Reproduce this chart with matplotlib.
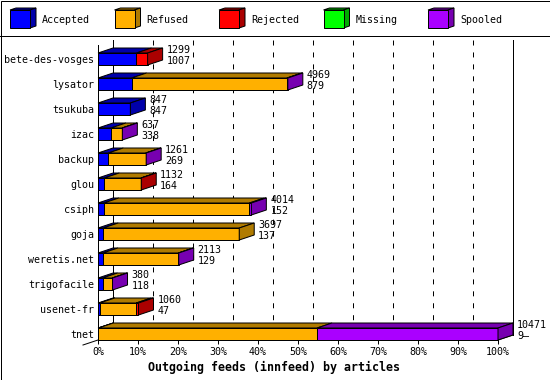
"""
innfeed outgoing feeds, 3d bar chart (innreport style)
"""
# %% importing modules
import matplotlib
matplotlib.use('Agg')
import matplotlib.pyplot as plt
from matplotlib.patches import Polygon, Rectangle

plt.rcParams['font.family'] = 'DejaVu Sans Mono'
plt.rcParams['lines.scale_dashes'] = False

# %% data (articles per feed)
feeds = ['bete-des-vosges', 'lysator', 'tsukuba', 'izac', 'backup', 'glou',
         'csiph', 'goja', 'weretis.net', 'trigofacile', 'usenet-fr', 'tnet']
offered = [1299, 4969, 847, 637, 1261, 1132, 4014, 3697, 2113, 380, 1060, 10471]
accepted = [1007, 879, 847, 338, 269, 164, 152, 137, 129, 118, 47, 9]
refused = [0, 4065, 0, 294, 980, 960, 3812, 3560, 1974, 255, 953, 5725]
rejected = [292, 0, 0, 0, 0, 8, 0, 0, 0, 0, 60, 0]
missing = [0, 0, 0, 0, 0, 0, 0, 0, 0, 0, 0, 0]
spooled = [0, 25, 0, 5, 12, 0, 50, 0, 10, 7, 0, 4737]
sub_labels = ['1007', '879', '847', '338', '269', '164', '152', '137',
              '129', '118', '47', '9\u2014']

xticks = list(range(0, 101, 10))
series_names = ['Accepted', 'Refused', 'Rejected', 'Missing', 'Spooled']
front_cols = ['#0000ff', '#ffb000', '#ff0000', '#00ff00', '#aa00ff']
dark_cols = ['#0000aa', '#b07b00', '#aa0000', '#00aa00', '#7700b0']

# %% geometry (percent on x, row index on y)
W, H = 550, 380
LW = 0.72
DX = 3.75   # 15 px of depth
DY = 0.2    # 5 px of depth
HH = 0.24   # half height of the bar front
YTOP, YBOT = -0.76, 11.24

fig = plt.figure(figsize=(W / 100, H / 100), dpi=100)

# frame + legend in pixel coords
lg = fig.add_axes([0, 0, 1, 1])
lg.set_xlim(0, W)
lg.set_ylim(H, 0)
lg.axis('off')
lg.add_patch(Rectangle((0.5, 0.5), W - 1, H - 1, fill=False, ec='k', lw=LW))
lg.plot([0, W], [35.5, 35.5], color='k', lw=LW)
for i, name in enumerate(series_names):
    x0 = 10 + 104.5 * i
    lg.add_patch(Polygon([(x0, 10), (x0 + 6, 8), (x0 + 26, 8), (x0 + 20, 10)],
                         fc=dark_cols[i], ec='k', lw=LW))
    lg.add_patch(Polygon([(x0 + 20, 10), (x0 + 26, 8), (x0 + 26, 26), (x0 + 20, 28)],
                         fc=dark_cols[i], ec='k', lw=LW))
    lg.add_patch(Rectangle((x0, 10), 20, 18, fc=front_cols[i], ec='k', lw=LW))
    lg.text(x0 + 32, 20, name, fontsize=7.2, va='center', ha='left')

# %% main axes
ax = fig.add_axes([98 / W, 40 / H, 400 / W, 300 / H])
ax.patch.set_alpha(0)
ax.set_xlim(0, 100)
ax.set_ylim(YBOT, YTOP)

# back wall
for v in xticks[1:-1]:
    ax.plot([v + DX, v + DX], [YTOP, YBOT - DY], color='k', lw=LW,
            ls=(0, (3.6, 5.0)), zorder=1, clip_on=False)
for v in [0, 100]:
    ax.plot([v + DX, v + DX], [YTOP, YBOT - DY], color='k', lw=LW,
            zorder=1, clip_on=False)
ax.plot([-DX, 0], [YBOT + DY, YBOT], color='k', lw=LW, clip_on=False)
ax.plot([100, 100 + DX], [YBOT, YBOT - DY], color='k', lw=LW, clip_on=False)

# bars
total = max(offered)
for r in range(len(feeds)):
    vals = [accepted[r], refused[r], rejected[r], missing[r], spooled[r]]
    segs = [k for k in range(5) if vals[k] > 0]
    x0 = 0.0
    for k in segs:
        x1 = x0 + vals[k] / total * 100
        ax.add_patch(Polygon([(x0, r - HH), (x0 + DX, r - HH - DY),
                              (x1 + DX, r - HH - DY), (x1, r - HH)],
                             fc=dark_cols[k], ec='k', lw=LW, zorder=3, clip_on=False))
        ax.add_patch(Rectangle((x0, r - HH), x1 - x0, 2 * HH, fc=front_cols[k],
                               ec='k', lw=LW, zorder=3, clip_on=False))
        if k == segs[-1]:
            ax.add_patch(Polygon([(x1, r - HH), (x1 + DX, r - HH - DY),
                                  (x1 + DX, r + HH - DY), (x1, r + HH)],
                                 fc=dark_cols[k], ec='k', lw=LW, zorder=3, clip_on=False))
        x0 = x1
    ax.text(x0 + DX + 1.0, r - 0.36, str(offered[r]), fontsize=7.2,
            va='center', ha='left', clip_on=False)
    ax.text(x0 + DX + 1.0, r + 0.08, sub_labels[r], fontsize=7.2,
            va='center', ha='left', clip_on=False)

# axes
ax.set_xticks(xticks)
ax.set_xticklabels([f'{v}%' for v in xticks])
ax.set_yticks(range(len(feeds)))
ax.set_yticklabels(feeds)
ax.tick_params(axis='x', length=2.88, width=LW, pad=2.2, labelsize=7.2)
ax.tick_params(axis='y', length=0, pad=2.88, labelsize=7.2)
for s in ['top', 'right']:
    ax.spines[s].set_visible(False)
ax.spines['left'].set_bounds(-0.56, YBOT)
ax.spines['left'].set_linewidth(LW)
ax.spines['bottom'].set_linewidth(LW)
ax.spines['left'].set_zorder(4)

fig.text(274 / W, 1 - 367 / H, 'Outgoing feeds (innfeed) by articles',
         fontsize=8.4, fontweight='bold', ha='center', va='center')

# %% save
fig.savefig('out.png', dpi=100)
